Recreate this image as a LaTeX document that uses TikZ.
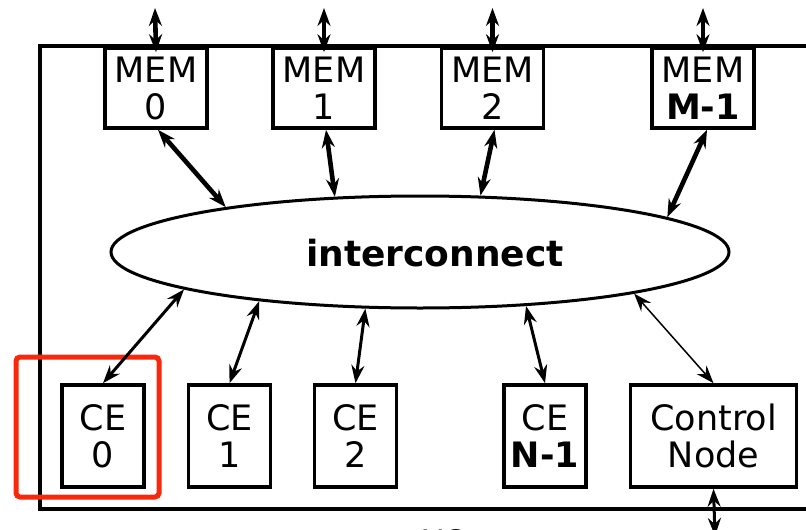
\documentclass[tikz,border=0pt]{standalone}
\usepackage{fontspec}
\setmainfont{DejaVu Sans}
\usetikzlibrary{shapes.geometric,arrows.meta}
\definecolor{hilite}{RGB}{250,40,10}
\tikzset{
  blk/.style={draw,fill=white,line width=3.6pt,align=center,inner sep=0pt,
    font=\fontsize{35}{37}\selectfont},
  membox/.style={blk,minimum width=102pt,minimum height=80pt},
  cebox/.style={blk,minimum width=82pt,minimum height=102pt},
  tip/.tip={Stealth[length=18pt,width=13pt,inset=6pt]},
  link/.style={line width=3pt,tip-tip},
  heavy/.style={link,line width=4.6pt},
  light/.style={link,line width=1.5pt},
  frame/.style={line width=3.4pt},
  hiliterect/.style={draw=hilite,line width=5pt,rounded corners=4pt},
}
\begin{document}
\begin{tikzpicture}[x=1pt,y=-1pt]
  \useasboundingbox (0,0) rectangle (806,530);

  % chip outline
  \draw[frame] (40,46) rectangle (840,509);

  % memories
  \node[membox] (mem0) at (156,88)   {MEM\\0};
  \node[membox] (mem1) at (324,88)   {MEM\\1};
  \node[membox] (mem2) at (492.5,88) {MEM\\2};
  \node[membox] (memM) at (703,88)   {MEM\\\textbf{M-1}};

  % interconnect
  \node[draw,ellipse,line width=3pt,inner sep=0pt,
        minimum width=618pt,minimum height=112pt] (ic) at (420,252) {};
  \node[anchor=base,font=\fontsize{36}{37}\selectfont\bfseries] (iclabel)
        at (435,266) {interconnect};

  % compute elements and control
  \node[cebox] (ce0) at (103,436)   {CE\\0};
  \node[cebox] (ce1) at (229.5,436) {CE\\1};
  \node[cebox] (ce2) at (355.5,436) {CE\\2};
  \node[cebox] (ceN) at (545,436)   {CE\\\textbf{N-1}};
  \node[blk,minimum width=166pt,minimum height=102pt] (ctrl) at (713.5,436)
        {Control\\Node};

  % highlight around CE 0
  \draw[hiliterect] (16,357) rectangle (159,497);

  % external memory ports
  \coordinate (p0) at (155,8);
  \coordinate (p1) at (324,8);
  \coordinate (p2) at (492.5,8);
  \coordinate (pM) at (703,8);
  \draw[heavy] (p0) -- ([yshift=-6pt]mem0.north);
  \draw[heavy] (p1) -- ([yshift=-6pt]mem1.north);
  \draw[heavy] (p2) -- ([yshift=-6pt]mem2.north);
  \draw[heavy] (pM) -- ([yshift=-6pt]memM.north);

  % memories to interconnect
  \draw[heavy] ([xshift=2pt]mem0.south) -- (ic.167.8);
  \draw[heavy] ([xshift=2pt]mem1.south) -- (ic.147.3);
  \draw[heavy] ([xshift=2pt]mem2.south) -- (ic.43.5);
  \draw[heavy] ([xshift=4pt]memM.south) -- (ic.8.6);

  % interconnect to compute elements
  \draw[link] (ce0.north) -- (ic.189.7);
  \draw[link] (ce1.north) -- (ic.197.7);
  \draw[link] (ce2.north) -- (ic.226.6);
  \draw[link] (ceN.north) -- (ic.333);
  \draw[light] (ctrl.north) -- (ic.349.3);

  % control I/O port
  \coordinate (pc) at (715,536);
  \draw[link] (ctrl.south) -- (pc);
  \node[anchor=base,font=\fontsize{35}{37}\selectfont] (io) at (445,555) {I/O};
\end{tikzpicture}
\end{document}
